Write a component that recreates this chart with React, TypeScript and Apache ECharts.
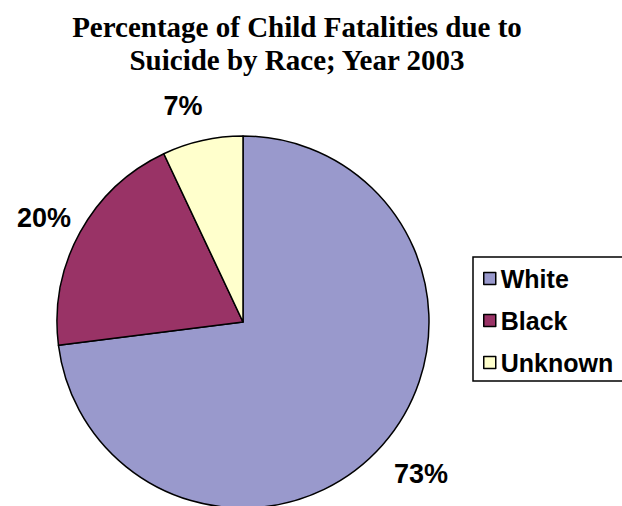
import React, { useEffect, useRef } from "react";
import * as echarts from "echarts";

const categories = ["White", "Black", "Unknown"];
const values = [73, 20, 7];
const colors = ["#9999CC", "#993366", "#FFFFCC"];
const titleLines = ["Percentage of Child Fatalities due to", "Suicide by Race; Year 2003"];

// label leader geometry (style only, not data)
const labelLen = [43.9, 29.9, 35.3];
const labelLen2 = [-26.4, -22.2, -12.8];

export default function App() {
  const ref = useRef<HTMLDivElement>(null);
  useEffect(() => {
    if (!ref.current) return;
    const chart = echarts.init(ref.current, null, { renderer: "svg" });
    const data = categories.map((name, i) => ({
      name,
      value: values[i],
      itemStyle: { color: colors[i] },
      labelLine: { show: false, length: labelLen[i], length2: labelLen2[i] },
    }));
    chart.setOption({
      animation: false,
      backgroundColor: "#ffffff",
      title: {
        text: titleLines.join("\n"),
        left: 292,
        top: 5,
        textAlign: "center",
        textStyle: {
          fontFamily: "Liberation Serif",
          fontWeight: "bold",
          fontSize: 29,
          lineHeight: 33,
          color: "#000",
        },
      },
      legend: {
        orient: "vertical",
        left: 473,
        top: 257,
        padding: [9, 40, 6, 10],
        borderColor: "#000",
        borderWidth: 1.5,
        itemWidth: 12,
        itemHeight: 12,
        itemGap: 17,
        itemTextGap: 10,
        icon: "rect",
        itemStyle: { borderColor: "#000", borderWidth: 1.5 },
        textStyle: {
          fontFamily: "Liberation Sans",
          fontWeight: "bold",
          fontSize: 25,
          lineHeight: 25,
          color: "#000",
        },
        data: categories,
      },
      series: [
        {
          type: "pie",
          center: [243, 322],
          radius: [0, 186],
          startAngle: 90,
          clockwise: true,
          avoidLabelOverlap: false,
          data,
          label: {
            show: true,
            position: "outside",
            alignTo: "none",
            distanceToLabelLine: 5,
            formatter: (p: any) => p.value + "%",
            fontFamily: "Liberation Sans",
            fontWeight: "bold",
            fontSize: 27,
            color: "#000",
          },
          labelLine: { show: false },
          itemStyle: { borderColor: "#000", borderWidth: 1.5 },
          silent: true,
          emphasis: { disabled: true },
        },
      ],
    });
    return () => chart.dispose();
  }, []);
  return <div ref={ref} style={{ position: "fixed", left: 0, top: 0, width: 622, height: 506 }} />;
}
